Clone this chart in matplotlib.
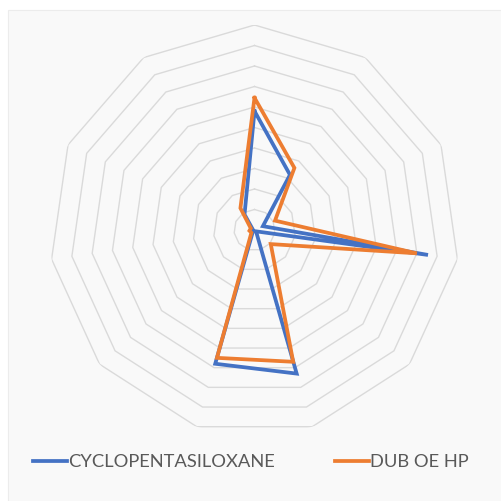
import numpy as np
import matplotlib
matplotlib.use("Agg")
import matplotlib.pyplot as plt
from matplotlib.patches import Rectangle

# 11 spokes, clockwise from the top
spokes = list(range(11))
cyclo = [5.8, 3.2, 0.45, 8.55, 0.1, 7.3, 6.8, 0.1, 0.1, 0.1, 0.9]
dub = [6.45, 3.6, 1.1, 8.0, 1.05, 6.7, 6.5, 0.2, 0.25, 0.2, 1.27]
rings = list(range(1, 11))
names = ["CYCLOPENTASILOXANE", "DUB OE HP"]
colors = ["#4472C4", "#ED7D31"]

plt.rcParams['font.family'] = ['Lato', 'DejaVu Sans']

fig = plt.figure(figsize=(5.02, 5.01), dpi=100)
fig.patches.append(Rectangle((8/502, 0), 1, 1 - 10/501, transform=fig.transFigure,
                             facecolor='#f9f9f9', edgecolor='#ececec', lw=0.8, zorder=-5))

ax = fig.add_axes([(254.5-205)/502, (501-230-205)/501, 410/502, 410/501], projection='polar')
ax.set_theta_zero_location('N')
ax.set_theta_direction(-1)
ax.patch.set_alpha(0)
ax.grid(False)
ax.spines['polar'].set_visible(False)
ax.set_xticks([])
ax.set_yticks([])
ax.set_ylim(0, 10)

theta = np.linspace(0, 2*np.pi, len(spokes), endpoint=False)
th = np.append(theta, theta[0])

for r in rings:
    ax.plot(th, [r]*len(th), color='#dadada', lw=1.0, zorder=1)

lines = []
for vals, c, n in zip([cyclo, dub], colors, names):
    l, = ax.plot(th, vals + vals[:1], color=c, lw=2.7, label=n, zorder=3,
                 solid_joinstyle='miter')
    lines.append(l)

fig.legend(handles=lines, loc='center', bbox_to_anchor=(0.5, 0.078), ncol=2,
           frameon=False, fontsize=13.2, handlelength=1.85, handletextpad=0.05,
           columnspacing=3.3, labelcolor='#595959')

fig.savefig('out.png', dpi=100)
